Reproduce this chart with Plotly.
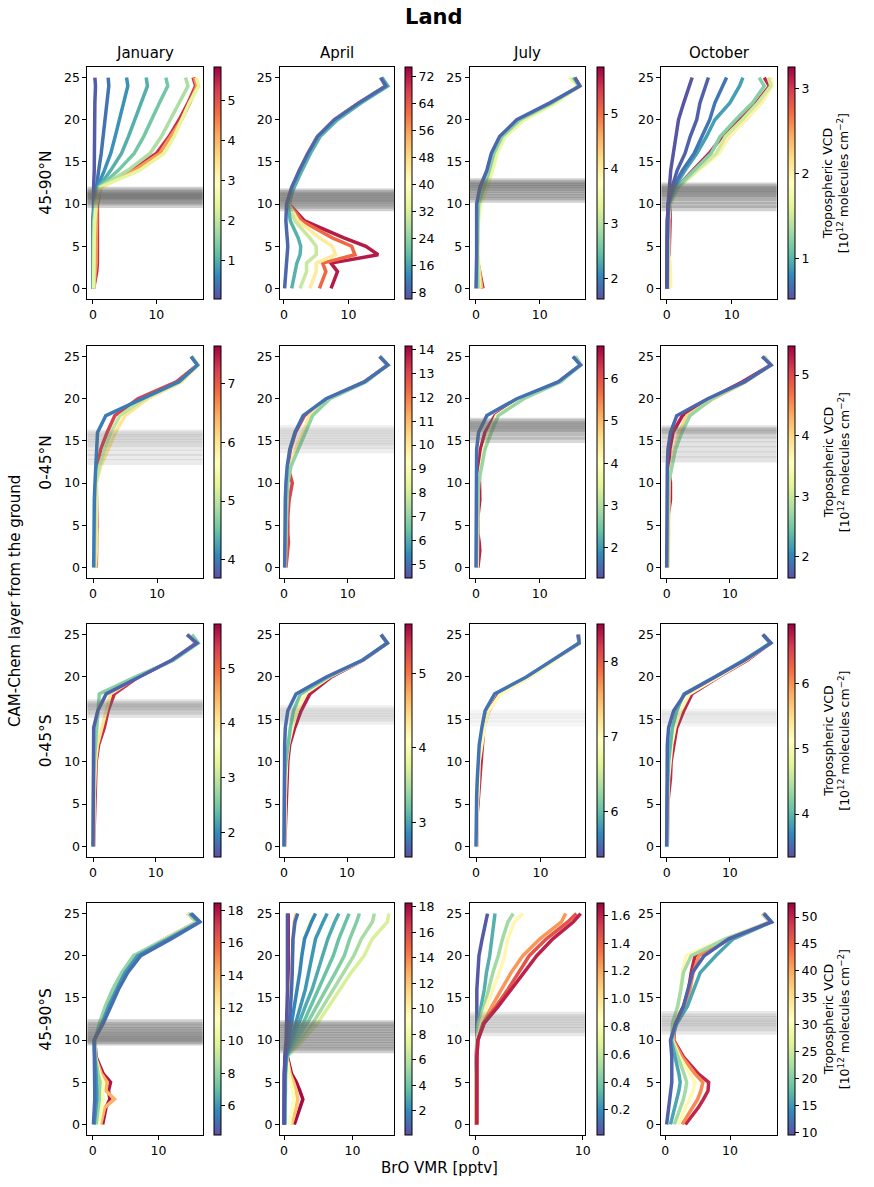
import plotly.graph_objects as go
from plotly.subplots import make_subplots
from plotly.colors import sample_colorscale

W, H = 874, 1187

LEVELS = [0, 2, 3, 4, 5, 6, 8, 10, 12, 14, 16, 18, 20, 22, 24, 25]

MONTHS = ["January", "April", "July", "October"]
REGIONS = ["45-90°N", "0-45°N", "0-45°S", "45-90°S"]

# --- BrO profiles per panel: (tropospheric VCD, BrO VMR at LEVELS) ---
nh_hi_jan = [
    (5.4, [0.1, 0.6, 0.7, 0.7, 0.8, 0.8, 0.8, 0.7, 1.2, 6.0, 10.0, 12.0, 13.6, 15.0, 16.2, 15.8]),
    (4.3, [0.1, 0.4, 0.5, 0.5, 0.5, 0.6, 0.6, 0.6, 1.2, 6.5, 10.5, 12.3, 14.0, 15.3, 16.4, 16.0]),
    (0.15, [0, 0, 0, 0, 0, 0, 0, 0.1, 0.1, 0.2, 0.2, 0.3, 0.3, 0.3, 0.4, 0.3]),
    (0.4, [0, 0, 0, 0, 0, 0, 0, 0.2, 0.5, 0.9, 1.3, 1.6, 1.9, 2.2, 2.5, 2.4]),
    (0.7, [0, 0, 0, 0, 0, 0, 0, 0.2, 0.7, 1.8, 2.8, 3.5, 4.2, 4.8, 5.5, 5.3]),
    (1.0, [0, 0, 0, 0, 0, 0, 0.1, 0.3, 0.9, 2.8, 4.5, 5.6, 6.6, 7.6, 8.6, 8.4]),
    (1.3, [0.1, 0.1, 0.1, 0.1, 0.1, 0.1, 0.2, 0.4, 1.0, 4.0, 6.5, 8.0, 9.2, 10.5, 11.8, 11.5]),
    (1.8, [0.1, 0.1, 0.1, 0.1, 0.1, 0.2, 0.2, 0.5, 1.1, 5.5, 9.0, 10.8, 12.2, 13.6, 15.0, 14.6]),
    (2.4, [0.1, 0.1, 0.1, 0.1, 0.2, 0.2, 0.3, 0.5, 1.2, 7.3, 11.2, 12.8, 14.0, 15.2, 16.7, 16.3]),
]
nh_hi_apr = [
    (72, [7.3, 8.3, 7.3, 14.6, 12.7, 9.3, 3.2, 0.8, 1.4, 2.4, 3.7, 5.2, 7.8, 11.6, 15.8, 15.0]),
    (62, [5.5, 6.5, 6.0, 11.0, 10.5, 7.5, 2.8, 0.8, 1.4, 2.4, 3.7, 5.2, 7.8, 11.6, 15.8, 15.0]),
    (45, [4.0, 5.0, 5.0, 8.0, 7.5, 5.5, 2.2, 0.7, 1.4, 2.4, 3.7, 5.2, 7.8, 11.6, 15.8, 15.0]),
    (30, [2.5, 3.5, 3.5, 5.0, 5.0, 4.0, 1.7, 0.7, 1.4, 2.5, 3.8, 5.3, 7.9, 11.7, 15.9, 15.1]),
    (18, [1.2, 1.8, 2.0, 2.5, 2.6, 2.2, 1.0, 0.6, 1.6, 2.8, 4.1, 5.6, 8.3, 12.0, 16.1, 15.2]),
    (9, [0.1, 0.3, 0.4, 0.5, 0.6, 0.5, 0.3, 0.4, 1.2, 2.4, 3.7, 5.2, 7.8, 11.6, 15.8, 15.0]),
]
nh_hi_jul = [
    (5.6, [1.1, 0.6, 0.3, 0.2, 0.2, 0.2, 0.3, 0.4, 1.0, 2.0, 2.8, 4.2, 7.0, 12.0, 16.3, 15.5]),
    (4.5, [0.9, 0.5, 0.3, 0.2, 0.2, 0.2, 0.3, 0.5, 1.3, 2.3, 3.0, 4.4, 7.3, 12.3, 16.3, 15.2]),
    (3.4, [0.6, 0.4, 0.3, 0.3, 0.3, 0.3, 0.4, 0.7, 1.8, 2.6, 3.3, 4.6, 7.6, 12.6, 16.0, 14.7]),
    (2.7, [0.3, 0.2, 0.2, 0.2, 0.2, 0.2, 0.3, 0.4, 1.3, 2.1, 2.8, 4.1, 6.9, 12.0, 16.2, 15.2]),
    (1.8, [0.0, 0.1, 0.1, 0.1, 0.1, 0.1, 0.1, 0.1, 0.6, 1.7, 2.4, 3.7, 6.4, 11.6, 16.3, 15.5]),
]
nh_hi_oct = [
    (3.1, [0.2, 0.3, 0.3, 0.3, 0.4, 0.5, 0.5, 0.5, 1.6, 4.0, 6.5, 8.5, 11.2, 13.8, 15.8, 15.0]),
    (2.0, [0.6, 0.6, 0.5, 0.3, 0.3, 0.3, 0.3, 0.5, 1.8, 4.8, 8.0, 9.6, 12.2, 14.6, 16.2, 16.0]),
    (1.5, [0.1, 0.1, 0.1, 0.1, 0.1, 0.2, 0.2, 0.5, 1.8, 4.6, 7.6, 9.0, 11.6, 14.0, 16.0, 15.6]),
    (1.2, [0.1, 0.1, 0.1, 0.1, 0.1, 0.1, 0.2, 0.4, 1.6, 4.2, 6.8, 8.2, 10.6, 13.2, 15.0, 14.2]),
    (0.9, [0, 0, 0, 0, 0, 0, 0.1, 0.3, 1.2, 2.8, 4.6, 6.1, 7.4, 9.7, 11.2, 11.7]),
    (0.7, [0, 0, 0, 0, 0, 0, 0.1, 0.2, 1.0, 2.4, 4.2, 5.4, 6.6, 7.4, 8.6, 9.2]),
    (0.6, [0, 0, 0, 0, 0, 0, 0.1, 0.2, 0.8, 1.6, 2.8, 3.6, 4.6, 5.1, 6.0, 6.4]),
    (0.55, [0, 0, 0, 0, 0, 0, 0.1, 0.2, 0.4, 0.6, 1.0, 1.4, 1.8, 2.6, 3.4, 3.9]),
]

nh_lo_jan = [
    (7.2, [0.5, 0.6, 0.6, 0.6, 0.6, 0.6, 0.5, 0.5, 0.7, 1.2, 2.2, 3.4, 7.0, 13.0, 16.3, 15.3]),
    (6.0, [0.4, 0.5, 0.6, 0.6, 0.5, 0.5, 0.5, 0.5, 1.2, 2.3, 3.5, 5.0, 8.5, 13.8, 16.4, 15.5]),
    (5.0, [0.2, 0.3, 0.3, 0.3, 0.3, 0.3, 0.3, 0.4, 1.0, 1.8, 2.8, 4.2, 8.0, 13.6, 16.3, 15.4]),
    (4.0, [0.1, 0.1, 0.1, 0.1, 0.1, 0.1, 0.2, 0.3, 0.4, 0.5, 0.7, 2.0, 7.7, 13.4, 16.3, 15.3]),
]
nh_lo_apr = [
    (13, [0.3, 0.5, 0.7, 0.6, 0.6, 0.6, 0.8, 1.3, 0.6, 1.0, 1.8, 3.2, 6.8, 12.6, 16.3, 15.0]),
    (10, [0.2, 0.3, 0.3, 0.3, 0.3, 0.3, 0.4, 0.5, 1.0, 1.8, 3.0, 4.0, 7.0, 12.8, 16.3, 15.1]),
    (7, [0.1, 0.2, 0.2, 0.3, 0.3, 0.3, 0.4, 0.6, 1.1, 2.2, 3.4, 4.5, 7.2, 12.9, 16.2, 15.1]),
    (5, [0.1, 0.1, 0.1, 0.1, 0.1, 0.1, 0.2, 0.3, 0.5, 0.9, 1.7, 3.0, 6.6, 12.6, 16.3, 15.0]),
]
nh_lo_jul = [
    (6.5, [0.3, 0.6, 0.5, 0.3, 0.3, 0.3, 0.6, 0.6, 0.5, 0.7, 1.4, 3.0, 7.0, 13.0, 16.4, 15.5]),
    (4.0, [0.2, 0.2, 0.2, 0.2, 0.2, 0.2, 0.3, 0.4, 0.8, 1.2, 2.0, 3.2, 7.2, 13.1, 16.3, 15.6]),
    (2.8, [0.1, 0.1, 0.1, 0.1, 0.2, 0.2, 0.3, 0.4, 0.9, 1.4, 2.4, 3.5, 7.5, 13.3, 16.4, 15.7]),
    (1.6, [0, 0, 0, 0, 0, 0, 0.1, 0.1, 0.1, 0.1, 0.4, 1.7, 6.4, 12.9, 16.4, 15.2]),
]
nh_lo_oct = [
    (5.3, [0.1, 0.1, 0.1, 0.1, 0.2, 0.2, 0.6, 0.6, 0.4, 0.5, 1.0, 2.5, 6.8, 12.0, 16.5, 15.3]),
    (4.0, [0.2, 0.3, 0.3, 0.3, 0.3, 0.3, 0.3, 0.4, 0.7, 1.2, 2.0, 3.2, 7.4, 12.6, 16.4, 15.5]),
    (2.7, [0.1, 0.1, 0.1, 0.1, 0.1, 0.2, 0.2, 0.3, 0.8, 1.4, 2.4, 3.7, 7.2, 12.4, 16.5, 15.4]),
    (1.8, [0, 0, 0, 0, 0, 0, 0.1, 0.1, 0.1, 0.2, 0.6, 1.6, 6.5, 12.3, 16.5, 15.1]),
]

sh_lo_jan = [
    (5.5, [0.1, 0.2, 0.2, 0.2, 0.3, 0.3, 0.5, 0.5, 0.9, 1.8, 2.4, 3.4, 7.2, 12.8, 16.4, 15.2]),
    (4.0, [0.1, 0.1, 0.1, 0.1, 0.2, 0.2, 0.3, 0.4, 0.7, 1.4, 2.0, 2.8, 7.0, 12.8, 16.5, 15.3]),
    (2.6, [0, 0, 0, 0, 0, 0, 0.1, 0.2, 0.4, 0.6, 0.8, 1.0, 6.8, 12.9, 16.8, 15.8]),
    (1.7, [0, 0, 0, 0, 0, 0, 0, 0, 0.1, 0.1, 0.75, 2.1, 7.4, 12.6, 16.6, 15.0]),
]
sh_lo_apr = [
    (5.5, [0.1, 0.2, 0.3, 0.3, 0.3, 0.4, 0.5, 0.6, 0.9, 1.7, 2.7, 4.1, 7.5, 12.6, 16.4, 15.4]),
    (4.2, [0.1, 0.1, 0.1, 0.2, 0.2, 0.2, 0.3, 0.4, 0.7, 1.3, 2.1, 3.3, 7.2, 12.6, 16.4, 15.4]),
    (3.2, [0, 0, 0, 0, 0, 0, 0.1, 0.3, 0.6, 1.0, 1.5, 2.6, 7.0, 12.5, 16.4, 15.4]),
    (2.7, [0, 0, 0, 0, 0, 0, 0, 0.1, 0.1, 0.2, 0.6, 1.9, 6.7, 12.5, 16.4, 15.4]),
]
sh_lo_jul = [
    (8.3, [0.1, 0.1, 0.2, 0.2, 0.3, 0.4, 0.6, 0.7, 0.9, 1.2, 2.0, 3.6, 8.2, 12.2, 16.0, 15.8]),
    (7.0, [0.1, 0.1, 0.2, 0.2, 0.2, 0.3, 0.4, 0.5, 0.9, 1.3, 2.0, 3.8, 8.3, 12.3, 16.0, 15.9]),
    (5.6, [0, 0, 0, 0.1, 0.1, 0.1, 0.2, 0.3, 0.5, 0.9, 1.4, 2.9, 7.8, 11.9, 16.0, 15.9]),
]
sh_lo_oct = [
    (6.7, [0.1, 0.1, 0.1, 0.2, 0.2, 0.3, 0.6, 0.7, 1.1, 1.6, 2.7, 4.0, 8.2, 12.8, 16.4, 15.3]),
    (5.2, [0.1, 0.1, 0.1, 0.1, 0.1, 0.2, 0.3, 0.5, 0.8, 1.3, 2.2, 3.6, 8.0, 12.6, 16.4, 15.3]),
    (4.0, [0, 0, 0, 0, 0, 0.1, 0.2, 0.3, 0.6, 0.9, 1.6, 2.7, 7.6, 12.2, 16.4, 15.2]),
    (3.5, [0, 0, 0, 0, 0, 0, 0, 0.1, 0.1, 0.3, 1.1, 2.9, 7.6, 12.4, 16.5, 15.2]),
]

sh_hi_jan = [
    (18, [1.5, 2.0, 2.6, 2.4, 2.7, 1.6, 0.5, 0.3, 1.2, 2.2, 3.4, 4.6, 6.5, 11.0, 15.8, 14.4]),
    (14, [1.2, 1.8, 3.3, 2.0, 2.2, 1.3, 0.4, 0.3, 1.2, 2.2, 3.4, 4.6, 6.5, 11.0, 15.8, 14.4]),
    (11, [0.9, 1.3, 1.6, 1.5, 1.6, 1.0, 0.4, 0.3, 1.2, 2.2, 3.4, 4.6, 6.5, 11.0, 15.8, 14.4]),
    (8, [0.5, 0.9, 1.0, 1.0, 1.1, 0.8, 0.4, 0.3, 1.0, 1.9, 3.0, 4.4, 6.2, 11.2, 15.9, 14.6]),
    (6, [0.2, 0.5, 0.6, 0.6, 0.6, 0.5, 0.3, 0.2, 1.4, 2.4, 3.6, 4.9, 6.8, 11.5, 16.2, 14.8]),
    (5, [0.1, 0.3, 0.3, 0.3, 0.3, 0.3, 0.2, 0.2, 1.6, 2.7, 3.9, 5.3, 7.3, 11.9, 16.3, 15.0]),
]
sh_hi_apr = [
    (18, [1.5, 2.3, 2.75, 2.3, 1.8, 1.1, 0.5, 0.4, 0.5, 0.6, 0.6, 0.6, 0.6, 0.6, 0.6, 0.6]),
    (12, [1.1, 1.8, 2.0, 1.8, 1.4, 0.9, 0.4, 0.4, 0.6, 0.8, 1.0, 1.1, 1.2, 1.3, 1.5, 1.8]),
    (9, [0.8, 1.2, 1.4, 1.3, 1.0, 0.7, 0.4, 0.5, 1.0, 1.5, 1.9, 2.2, 2.5, 2.9, 3.8, 4.5]),
    (7, [0.1, 0.2, 0.2, 0.2, 0.2, 0.2, 0.4, 2.8, 4.9, 6.5, 8.1, 9.8, 11.7, 12.9, 15.1, 15.3]),
    (5.5, [0.1, 0.2, 0.2, 0.2, 0.2, 0.2, 0.4, 2.3, 4.2, 5.7, 7.2, 8.6, 10.2, 11.3, 12.9, 13.2]),
    (4.5, [0.1, 0.2, 0.2, 0.2, 0.2, 0.2, 0.4, 1.8, 3.4, 4.8, 6.2, 7.5, 8.8, 9.6, 10.6, 11.0]),
    (3.8, [0.1, 0.1, 0.1, 0.1, 0.1, 0.2, 0.4, 1.5, 2.8, 3.9, 5.1, 6.2, 7.2, 8.0, 9.0, 9.5]),
    (3.0, [0.1, 0.1, 0.1, 0.1, 0.1, 0.1, 0.3, 1.2, 2.2, 3.1, 4.1, 4.9, 5.7, 6.4, 7.4, 8.0]),
    (2.4, [0, 0.1, 0.1, 0.1, 0.1, 0.1, 0.3, 1.0, 1.7, 2.4, 3.1, 3.6, 4.1, 4.6, 5.7, 6.3]),
    (1.8, [0, 0, 0, 0, 0, 0.1, 0.3, 0.7, 1.2, 1.6, 2.0, 2.3, 2.6, 3.0, 4.0, 4.6]),
    (1.0, [0, 0, 0, 0, 0, 0, 0.2, 0.6, 0.8, 1.0, 1.1, 1.2, 1.2, 1.3, 1.6, 2.0]),
    (0.3, [0, 0, 0, 0, 0, 0, 0.1, 0.3, 0.4, 0.4, 0.5, 0.5, 0.5, 0.6, 0.5, 0.5]),
]
sh_hi_jul = [
    (0.05, [0, 0, 0, 0, 0, 0, 0.05, 0.1, 0.1, 0.1, 0.1, 0.2, 0.3, 0.6, 0.9, 1.1]),
    (0.3, [0, 0, 0, 0, 0, 0, 0.1, 0.1, 0.2, 0.5, 0.8, 1.0, 1.3, 1.5, 1.7, 1.8]),
    (0.5, [0, 0, 0, 0, 0, 0, 0.1, 0.1, 0.3, 0.8, 1.2, 1.6, 2.1, 2.5, 3.0, 3.5]),
    (0.9, [0.05, 0.05, 0.05, 0.05, 0.05, 0.05, 0.1, 0.2, 0.5, 1.0, 1.6, 2.2, 2.7, 3.0, 3.6, 4.4]),
    (1.25, [0.05, 0.05, 0.05, 0.05, 0.05, 0.1, 0.1, 0.2, 0.7, 1.5, 2.4, 3.3, 4.4, 6.0, 8.0, 8.4]),
    (1.45, [0.1, 0.1, 0.1, 0.1, 0.1, 0.1, 0.1, 0.2, 0.7, 1.9, 3.0, 4.0, 5.0, 6.6, 8.6, 9.4]),
    (1.6, [0.1, 0.1, 0.1, 0.1, 0.1, 0.1, 0.1, 0.2, 0.8, 2.1, 3.3, 4.4, 5.7, 7.2, 9.1, 9.8]),
]
sh_hi_oct = [
    (50, [3.1, 5.1, 5.9, 6.6, 6.7, 5.1, 2.8, 1.3, 1.5, 2.8, 3.6, 4.0, 4.6, 9.5, 16.2, 15.0]),
    (42, [2.6, 4.3, 5.0, 5.5, 5.8, 4.6, 2.6, 1.2, 1.6, 2.9, 3.8, 4.3, 5.2, 10.0, 16.3, 15.1]),
    (32, [2.0, 3.2, 3.8, 4.3, 4.6, 3.8, 2.2, 1.1, 1.2, 2.0, 2.4, 2.6, 3.2, 9.2, 16.2, 15.0]),
    (22, [1.4, 2.3, 2.8, 3.1, 3.3, 2.9, 1.9, 1.0, 1.1, 1.9, 2.4, 2.8, 4.0, 9.3, 16.3, 15.1]),
    (16, [0.8, 1.5, 1.8, 2.1, 2.3, 2.1, 1.5, 0.9, 1.8, 3.4, 4.4, 5.4, 7.8, 10.5, 16.4, 15.3]),
    (11, [0.2, 0.5, 0.7, 0.9, 1.0, 1.0, 1.0, 0.8, 1.6, 2.8, 3.5, 4.2, 6.0, 9.8, 16.4, 15.2]),
]

PROFILES = [
    [nh_hi_jan, nh_hi_apr, nh_hi_jul, nh_hi_oct],
    [nh_lo_jan, nh_lo_apr, nh_lo_jul, nh_lo_oct],
    [sh_lo_jan, sh_lo_apr, sh_lo_jul, sh_lo_oct],
    [sh_hi_jan, sh_hi_apr, sh_hi_jul, sh_hi_oct],
]

# --- colour ranges of the VCD colourbars and their tick step ---
VCD_RANGE = [
    [(0.03, 5.83), (6.1, 74.9), (1.62, 5.86), (0.52, 3.25)],
    [(3.69, 7.64), (4.45, 14.14), (1.29, 6.77), (1.65, 5.48)],
    [(1.55, 5.81), (2.54, 5.66), (5.4, 8.5), (3.34, 6.92)],
    [(4.2, 18.45), (0.11, 18.3), (0.02, 1.69), (9.5, 52.6)],
]
VCD_DTICK = [
    [1, 8, 1, 1],
    [1, 1, 1, 1],
    [1, 1, 1, 1],
    [2, 2, 0.2, 5],
]

# --- tropopause layers per panel ---
TROPOPAUSE = [
    [[9.9, 10.2, 10.4, 10.6, 10.8, 10.9, 11.0, 11.1, 11.3, 11.5, 11.7],
     [9.5, 9.8, 10.1, 10.3, 10.5, 10.7, 10.9, 11.1, 11.3, 11.5],
     [10.5, 10.8, 11.1, 11.4, 11.7, 11.9, 12.1, 12.3, 12.5, 12.7],
     [9.5, 9.9, 10.3, 10.7, 11.0, 11.2, 11.4, 11.6, 11.8, 12.0, 12.2]],
    [[12.5, 13.1, 13.6, 14.2, 14.6, 14.9, 15.2, 15.5, 15.8, 16.0],
     [13.9, 14.4, 14.7, 15.0, 15.3, 15.6, 15.9, 16.2, 16.5],
     [15.1, 15.5, 15.9, 16.2, 16.4, 16.6, 16.8, 17.0, 17.2, 17.4],
     [12.8, 13.4, 14.0, 14.6, 15.2, 15.6, 16.0, 16.2, 16.3, 16.5]],
    [[15.5, 15.9, 16.2, 16.4, 16.6, 16.8, 17.0],
     [14.7, 15.1, 15.4, 15.7, 16.0, 16.3],
     [14.5, 15.0, 15.4, 15.8],
     [14.5, 14.9, 15.3, 15.6, 15.9]],
    [[9.7, 9.9, 10.1, 10.3, 10.5, 10.7, 11.0, 11.2, 11.5, 11.8, 12.1],
     [8.8, 9.1, 9.4, 9.7, 10.0, 10.3, 10.6, 10.9, 11.2, 11.5, 11.8, 12.0],
     [10.8, 11.2, 11.5, 11.8, 12.1, 12.4, 12.7, 13.0],
     [11.0, 11.4, 11.7, 12.0, 12.2, 12.5, 12.8, 13.1]],
]
# how dark the tropopause band of each panel is drawn
TROP_ALPHA = [
    [0.3, 0.3, 0.3, 0.3],
    [0.13, 0.11, 0.25, 0.18],
    [0.18, 0.11, 0.06, 0.08],
    [0.3, 0.3, 0.15, 0.15],
]

X_RANGE = [
    [(-0.88, 17.3), (-0.6, 17.1), (-0.98, 17.1), (-0.83, 16.9)],
    [(-0.88, 17.1), (-0.62, 17.3), (-0.98, 17.1), (-0.83, 17.4)],
    [(-0.9, 17.5), (-0.63, 17.5), (-0.97, 16.9), (-0.83, 17.4)],
    [(-0.82, 16.7), (-0.58, 16.1), (-0.56, 10.2), (-0.6, 17.2)],
]

# --- panel boxes in pixels ---
COL_PX = [(88, 204), (282, 397), (473, 589), (666, 782)]
ROW_PX = [(67, 299), (346, 578), (624, 857), (903, 1135)]
CBAR_X = [215, 408, 601, 793]

CSCALE = "Spectral_r"
TICK_FONT = dict(family="DejaVu Sans", size=12.5, color="black")

fig = make_subplots(rows=4, cols=4)

for r in range(4):
    for c in range(4):
        lo, hi = VCD_RANGE[r][c]
        for vcd, bro in PROFILES[r][c]:
            t = min(max((vcd - lo) / (hi - lo), 0), 1)
            color = sample_colorscale(CSCALE, [t])[0]
            fig.add_trace(go.Scatter(
                x=bro, y=LEVELS, mode="lines",
                line=dict(color=color, width=3.5),
                showlegend=False, hoverinfo="skip",
            ), row=r + 1, col=c + 1)

        for lev in TROPOPAUSE[r][c]:
            fig.add_hline(y=lev, row=r + 1, col=c + 1,
                          line=dict(color=f"rgba(100,100,100,{TROP_ALPHA[r][c]})", width=6))

        # --- colourbar for this panel ---
        top, bottom = ROW_PX[r]
        fig.add_trace(go.Scatter(
            x=[None], y=[None], mode="markers", showlegend=False, hoverinfo="skip",
            marker=dict(
                color=[lo, hi], cmin=lo, cmax=hi, colorscale=CSCALE, showscale=True,
                colorbar=dict(
                    x=CBAR_X[c] / W, xanchor="left", xpad=0,
                    y=1 - top / H, yanchor="top", ypad=0,
                    len=(bottom - top) / H, lenmode="fraction",
                    thickness=7, outlinewidth=1, outlinecolor="black",
                    ticks="outside", ticklen=4, tickcolor="black",
                    tick0=0, dtick=VCD_DTICK[r][c],
                    tickformat=".1f" if VCD_DTICK[r][c] < 1 else "",
                    tickfont=TICK_FONT,
                ),
            ),
        ), row=r + 1, col=c + 1)

        idx = r * 4 + c + 1
        suffix = "" if idx == 1 else str(idx)
        x0, x1 = COL_PX[c]
        fig.layout["xaxis" + suffix].update(
            domain=[x0 / W, x1 / W], range=list(X_RANGE[r][c]),
            tickvals=[0, 10], ticks="outside", ticklen=4, tickcolor="black",
            showline=True, mirror=True, linecolor="black", linewidth=1,
            showgrid=False, zeroline=False, tickfont=TICK_FONT,
        )
        fig.layout["yaxis" + suffix].update(
            domain=[1 - bottom / H, 1 - top / H], range=[-1.25, 26.25],
            tickvals=[0, 5, 10, 15, 20, 25], ticks="outside", ticklen=4, tickcolor="black",
            showline=True, mirror=True, linecolor="black", linewidth=1,
            showgrid=False, zeroline=False, tickfont=TICK_FONT,
        )

# --- texts ---
annotations = [
    dict(text="<b>Land</b>", x=437 / W, y=1 - 17 / H, font=dict(size=21)),
    dict(text="CAM-Chem layer from the ground", x=15 / W, y=1 - 601 / H,
         textangle=-90, font=dict(size=15)),
    dict(text="BrO VMR [pptv]", x=443 / W, y=1 - 1168 / H, font=dict(size=15)),
]
for c, month in enumerate(MONTHS):
    x0, x1 = COL_PX[c]
    annotations.append(dict(text=month, x=(x0 + x1) / 2 / W, y=1 - 53 / H,
                            font=dict(size=15)))
for r, region in enumerate(REGIONS):
    top, bottom = ROW_PX[r]
    annotations.append(dict(text=region, x=46 / W, y=1 - (top + bottom) / 2 / H,
                            textangle=-90, font=dict(size=15.5)))
    annotations.append(dict(
        text="Tropospheric VCD<br>[10<sup>12</sup> molecules cm<sup>−2</sup>]",
        x=842 / W, y=1 - (top + bottom) / 2 / H, textangle=-90,
        font=dict(size=12.5)))

for a in annotations:
    a.update(xref="paper", yref="paper", showarrow=False,
             xanchor="center", yanchor="middle")

fig.update_layout(
    width=W, height=H,
    margin=dict(l=0, r=0, t=0, b=0, pad=0),
    plot_bgcolor="white", paper_bgcolor="white",
    font=dict(family="DejaVu Sans", color="black"),
    annotations=annotations,
)

# drop the page margin so the figure sits at the window corner
fig.write_html("out.html", config={"displayModeBar": False},
               post_script="document.body.style.margin = '0';")
